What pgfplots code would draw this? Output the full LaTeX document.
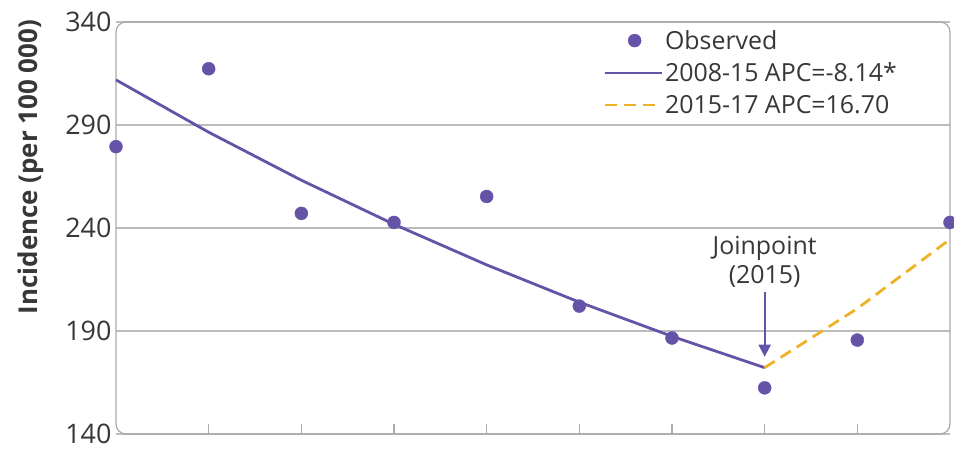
\documentclass[border=0pt]{standalone}
\usepackage{fontspec}
\setmainfont{Open Sans}
\usepackage{pgfplots}
\pgfplotsset{compat=1.18}
\usetikzlibrary{arrows.meta}
\definecolor{trendpurple}{RGB}{101,83,168}
\definecolor{trendorange}{RGB}{239,178,38}
\definecolor{framegray}{RGB}{170,170,170}
\definecolor{labelgray}{RGB}{55,55,55}

\begin{document}
\begin{tikzpicture}
\begin{axis}[
  at={(0,0)}, anchor=south west,
  scale only axis, width=834bp, height=412bp,
  xmin=2008, xmax=2017, ymin=140, ymax=340,
  clip=false,
  axis line style={draw=none},
  xtick={2009,...,2016}, xticklabels={},
  xtick pos=bottom, tick align=inside,
  major tick length=10bp,
  xtick style={draw=framegray, line width=1.2bp},
  ytick={140,190,240,290,340},
  ytick style={draw=none},
  ymajorgrids, grid style={draw=framegray!80, line width=1.2bp},
  /pgf/number format/assume math mode=true,
  yticklabel style={font=\fontsize{27}{30}\selectfont, text=labelgray, xshift=-1bp},
  ylabel={\bfseries Incidence (per 100 000)},
  ylabel style={font=\fontsize{26}{30}\selectfont, text=labelgray,
    at={(rel axis cs:0,0.648)}, anchor=center, yshift=85bp},
  legend style={at={(0.584,0.985)}, anchor=north west, draw=none, fill=none,
    font=\fontsize{25}{28}\selectfont, text=labelgray,
    row sep=8bp, inner sep=0pt,
    /tikz/every even column/.append style={column sep=9bp}},
  legend cell align=left,
  legend image code/.code={\draw[mark repeat=2,mark phase=2]
    plot coordinates {(0bp,0bp) (30bp,0bp) (57bp,0bp)};},
]
% rounded plot frame
\draw[framegray, line width=1.2bp, rounded corners=10bp]
  (rel axis cs:0,0) rectangle (rel axis cs:1,1);

% observed incidence
\addplot[only marks, mark=*, mark size=6.5bp, color=trendpurple] coordinates {
  (2008,279.5) (2009,317.3) (2010,247.1) (2011,242.7) (2012,255.3)
  (2013,202.1) (2014,186.6) (2015,162.4) (2016,185.6) (2017,242.7)};
\addlegendentry{Observed}

% segment 2008-15
\addplot[trendpurple, line width=2.8bp, no marks] coordinates {
  (2008,311.9) (2009,286.5) (2010,263.2) (2011,241.8) (2012,222.1)
  (2013,204.0) (2014,187.4) (2015,172.2)};
\addlegendentry{2008-15 APC=-8.14*}

% segment 2015-17
\addplot[trendorange, line width=2.8bp, dash pattern=on 12bp off 7bp, no marks] coordinates {
  (2015,172.2) (2016,200.9) (2017,234.5)};
\addlegendentry{2015-17 APC=16.70}

% joinpoint annotation
\node[anchor=south, align=center, font=\fontsize{25}{29}\selectfont, text=labelgray,
  inner sep=2bp] at (axis cs:2015,210) {Joinpoint\\(2015)};
\draw[trendpurple, line width=2bp, -{Triangle[length=12bp,width=12bp]}]
  (axis cs:2015,209) -- (axis cs:2015,177.5);
\end{axis}
\pgfresetboundingbox
\path[use as bounding box] (-116bp,-15bp) rectangle (838bp,434bp);
\end{tikzpicture}
\end{document}
